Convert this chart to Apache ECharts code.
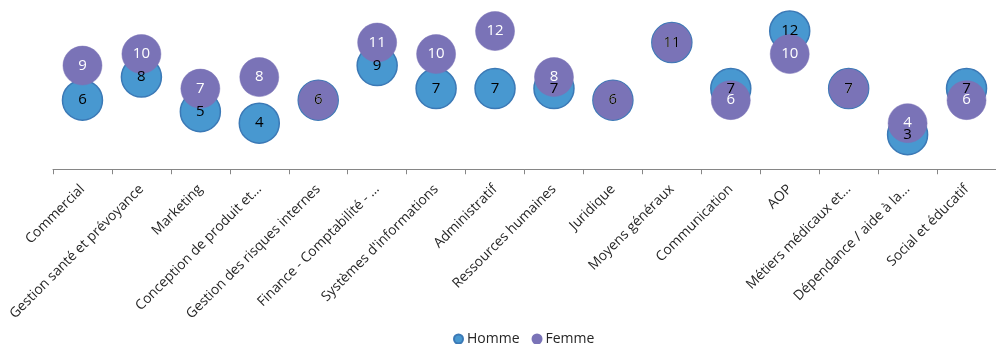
<!DOCTYPE html>
<html>
<head>
<meta charset="utf-8">
<script src="https://cdn.jsdelivr.net/npm/echarts@6/dist/echarts.min.js"></script>
<style>
  html, body { margin: 0; padding: 0; background: #fff; }
  #chart { width: 996px; height: 344px; }
</style>
</head>
<body>
<div id="chart"></div>
<script>
// Métiers (catégories de l'axe horizontal)
const categories = [
  'Commercial',
  'Gestion santé et prévoyance',
  'Marketing',
  'Conception de produit et…',
  'Gestion des risques internes',
  'Finance - Comptabilité - …',
  "Systèmes d'informations",
  'Administratif',
  'Ressources humaines',
  'Juridique',
  'Moyens généraux',
  'Communication',
  'AOP',
  'Métiers médicaux et…',
  'Dépendance / aide à la…',
  'Social et éducatif'
];

// Valeurs par sexe
const homme = [6, 8, 5, 4, 6, 9, 7, 7, 7, 6, 11, 7, 12, 7, 3, 7];
const femme = [9, 10, 7, 8, 6, 11, 10, 12, 8, 6, 11, 6, 10, 7, 4, 6];

const FONT = 'Open Sans';
const HOMME_COLOR = '#4898D0';
const FEMME_COLOR = '#7A73B7';

const valueLabel = (color) => ({
  show: true,
  position: 'inside',
  formatter: '{c}',
  fontFamily: FONT,
  fontSize: 15,
  color: color
});

const chart = echarts.init(document.getElementById('chart'), null, { renderer: 'canvas' });

chart.setOption({
  animation: false,
  backgroundColor: '#ffffff',
  textStyle: { fontFamily: FONT },
  grid: { left: 53, top: 8, width: 950, height: 164, containLabel: false },
  legend: {
    left: 448,
    top: 327,
    icon: 'circle',
    itemWidth: 9,
    itemHeight: 9,
    itemGap: 12,
    textStyle: { fontFamily: FONT, fontSize: 14, color: '#262626', padding: [0, 0, 0, -1] },
    data: ['Homme', 'Femme']
  },
  xAxis: {
    type: 'category',
    data: categories,
    boundaryGap: true,
    axisLine: { show: true, lineStyle: { color: '#868686', width: 1 } },
    axisTick: { show: true, alignWithLabel: false, length: 5, lineStyle: { color: '#868686' } },
    axisLabel: {
      interval: 0,
      rotate: 45,
      margin: 15,
      fontFamily: FONT,
      fontSize: 13.8,
      color: '#262626'
    },
    splitLine: { show: false }
  },
  yAxis: {
    type: 'value',
    show: false,
    min: -0.24,
    max: 14,
    splitLine: { show: false }
  },
  series: [
    {
      name: 'Homme',
      type: 'scatter',
      z: 2,
      data: homme,
      symbol: 'circle',
      symbolSize: 40,
      itemStyle: { color: HOMME_COLOR, borderColor: '#3B79B6', borderWidth: 1.5, opacity: 1 },
      label: { show: false },
      emphasis: { disabled: true }
    },
    {
      name: 'Femme',
      type: 'scatter',
      z: 3,
      data: femme,
      symbol: 'circle',
      symbolSize: 39,
      itemStyle: { color: FEMME_COLOR, borderColor: FEMME_COLOR, borderWidth: 0.5, opacity: 1 },
      label: valueLabel('#ffffff'),
      emphasis: { disabled: true }
    },
    {
      // Étiquettes des hommes, placées au-dessus des deux séries de bulles
      name: 'Homme étiquettes',
      type: 'scatter',
      z: 4,
      data: homme,
      symbol: 'circle',
      symbolSize: 40,
      silent: true,
      itemStyle: { color: 'rgba(0,0,0,0)', opacity: 1 },
      label: valueLabel('#000000'),
      emphasis: { disabled: true }
    }
  ]
});
</script>
</body>
</html>
